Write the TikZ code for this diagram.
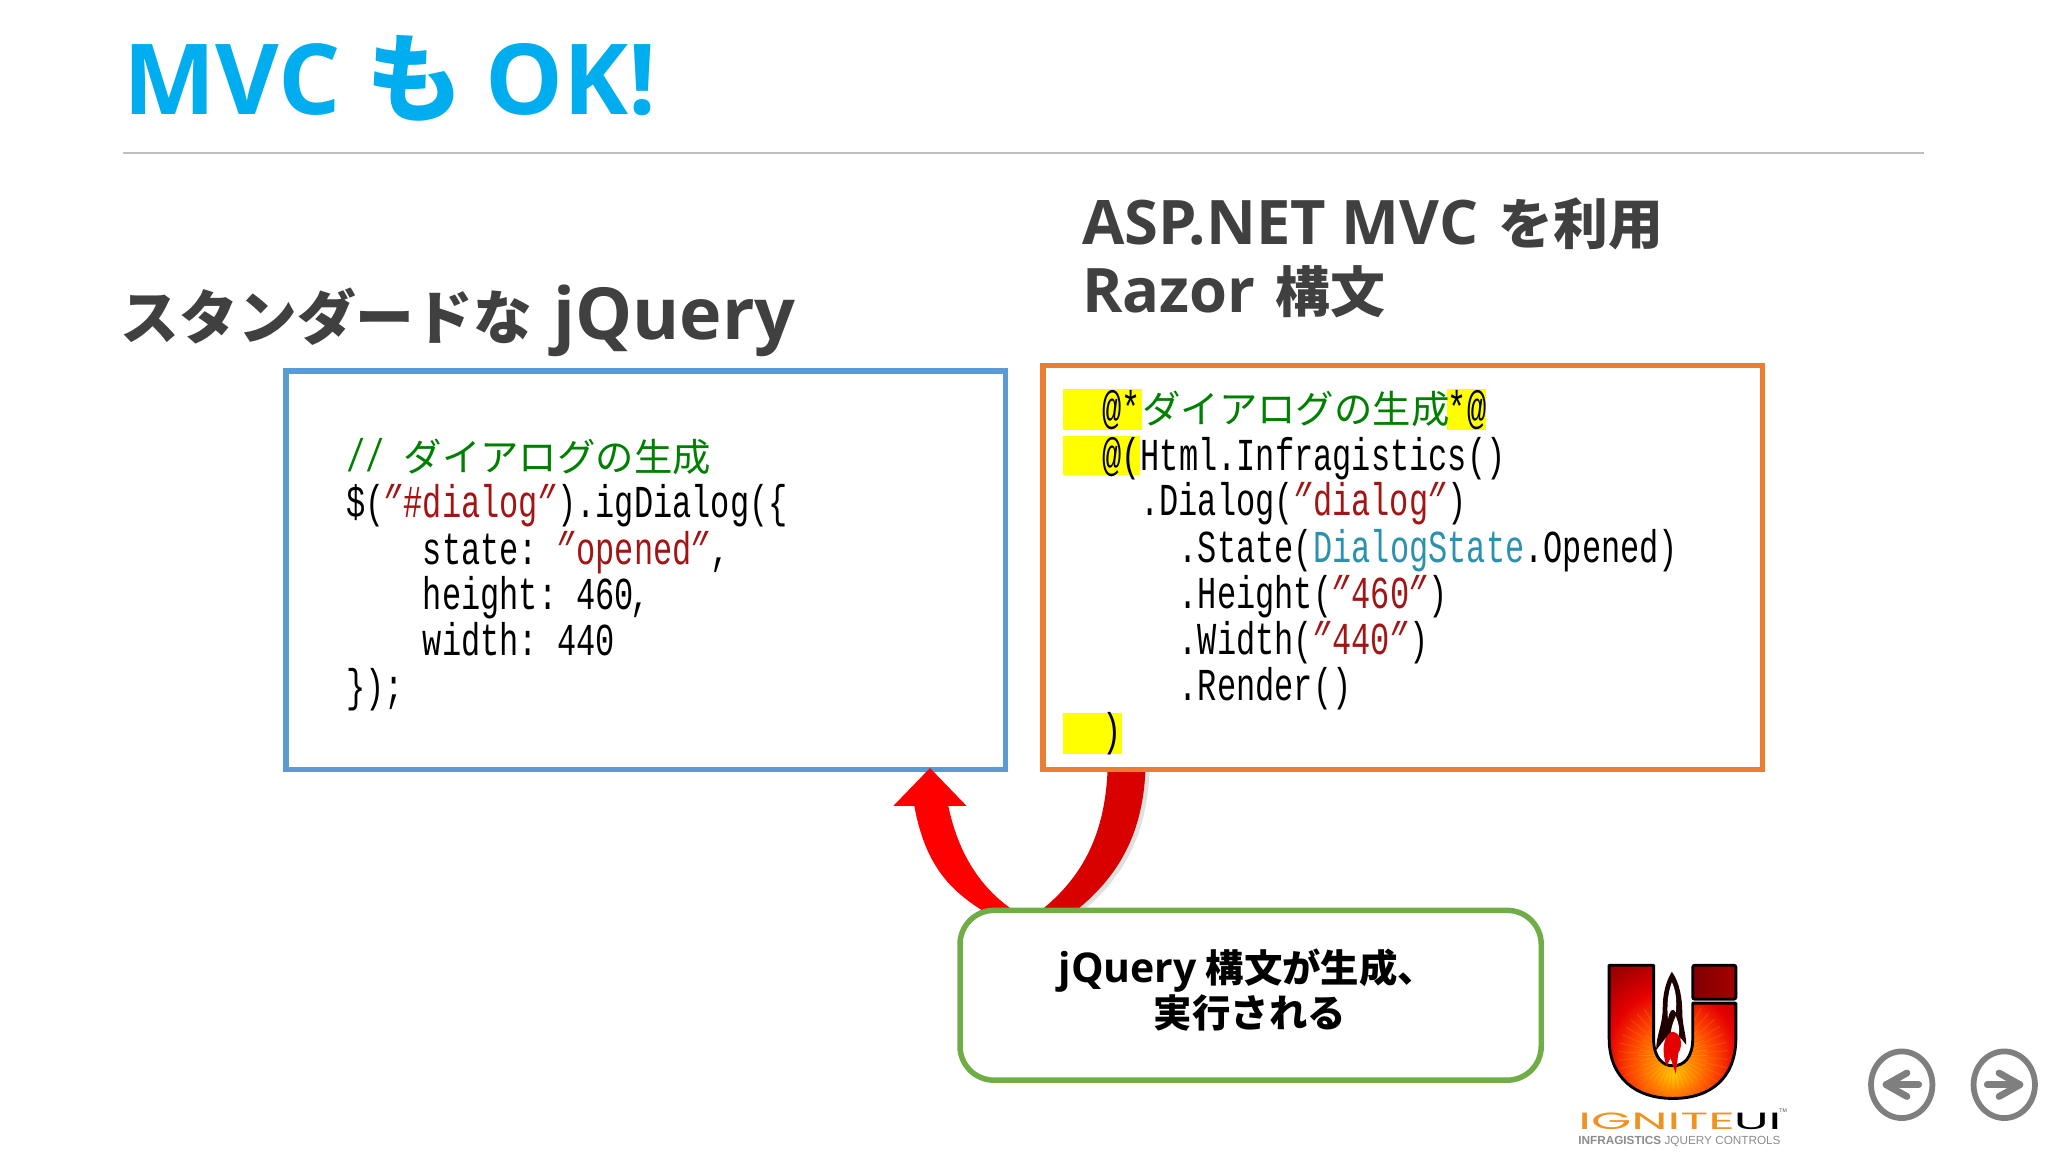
\documentclass[tikz,border=0pt]{standalone}
\usepackage{fontspec}
\usetikzlibrary{shapes.geometric,calc}
\setmainfont{Noto Sans CJK JP}
\newfontfamily\cjk{Noto Sans CJK JP}
\newfontfamily\lat{Open Sans}
\newfontfamily\codefont[FakeStretch=0.7]{Liberation Mono}
\newfontfamily\quotefont[FakeStretch=0.7,FakeSlant=0.45]{Liberation Mono}
\newfontfamily\logofont[FakeStretch=2.2]{Poppins}
\newfontfamily\smallfont{Liberation Sans}
\definecolor{titleblue}{HTML}{00AEEF}
\definecolor{headgray}{HTML}{404040}
\definecolor{rulegray}{HTML}{BFBFBF}
\definecolor{boxblue}{HTML}{5B9BD5}
\definecolor{boxorange}{HTML}{ED7D31}
\definecolor{boxgreen}{HTML}{70AD47}
\definecolor{cgreen}{HTML}{008000}
\definecolor{cred}{HTML}{A31515}
\definecolor{cteal}{HTML}{2B91AF}
\definecolor{hlyellow}{HTML}{FFFF00}
\definecolor{navgray}{HTML}{7F7F7F}
\definecolor{arrowred}{HTML}{FF0000}
\definecolor{arrowdark}{HTML}{D90000}
\definecolor{logoorange}{HTML}{EE9322}
\pgfdeclareradialshading{ufire}{\pgfpoint{0bp}{-16bp}}{%
 color(0bp)=(yellow!60!orange);
 color(7bp)=(orange!90!yellow);
 color(16bp)=(orange!60!red);
 color(26bp)=(red!90!black);
 color(36bp)=(red!65!black);
 color(48bp)=(red!45!black);
 color(70bp)=(red!35!black)}
\tikzset{
 codeline/.style={anchor=base west,inner sep=0pt,outer sep=0pt,font=\codefont\fontsize{17.5}{17.5}\selectfont},
 heading/.style={anchor=base west,inner sep=0pt,font=\cjk\bfseries\fontsize{#1}{#1}\selectfont,text=headgray},
 codebox/.style={draw=#1,line width=2pt,rectangle,inner sep=0pt},
 navcircle/.style={draw=navgray,line width=2.2pt,ellipse,inner sep=0pt,minimum width=23.5pt,minimum height=25.5pt},
 navarrow/.style={draw=navgray,line width=2.6pt,line cap=round,line join=round},
 notetext/.style={anchor=base,inner sep=0pt,font=\cjk\bfseries\fontsize{14.7}{14.7}\selectfont}
}
\newcommand{\jp}[1]{{\cjk\fontsize{14.7}{14.7}\selectfont #1}}
\newcommand{\qt}{{\kern-4.5pt\quotefont\char34\kern4.5pt}}
\newcommand{\str}[1]{\textcolor{cred}{#1}}
\newcommand{\lt}[2]{{\lat\bfseries\fontsize{#1}{#1}\selectfont #2}}
\begin{document}
\begin{tikzpicture}[x=0.5pt,y=-0.5pt]
\useasboundingbox (0,0) rectangle (1568,882);
\fill[white] (0,0) rectangle (1568,882);

% title
\node[anchor=base west,inner sep=0pt,text=titleblue,font=\cjk\bfseries\fontsize{37}{37}\selectfont] (title) at (94,88) {\lt{37.5}{MVC}\kern1.5pt{} も \lt{37.5}{OK!}};
\coordinate (ruleL) at (94,117); \coordinate (ruleR) at (1473,117);
\draw[rulegray,line width=0.8pt] (ruleL) -- (ruleR);

% headings
\node[heading=22.5] (headL) at (92,260) {スタンダードな\kern3pt{} \lt{27.5}{jQuery}};
\node[heading=21] (headR1) at (828,187) {\lt{23.5}{ASP.NET MVC}\kern3pt{} を利用};
\node[heading=21] (headR2) at (828,239) {\lt{23.5}{Razor}\kern3pt{} 構文};

% red curved arrow: shadow, then band
\coordinate (tip) at (712,588);
\fill[black,opacity=0.12] (880,591) .. controls (878,642) and (858,674) .. (827,699) -- (820,699) .. controls (852,672) and (872,640) .. (874,591) -- cycle;
\fill[arrowdark] (877,589) .. controls (875,640) and (855,672) .. (824,697)
  -- (797,697) .. controls (828,672) and (846,640) .. (848,589) -- cycle;

% code boxes
\node[codebox=boxblue,minimum width=275.5pt,minimum height=152.5pt] (jsbox) at (494.5,436.5) {};
\node[codebox=boxorange,minimum width=275.5pt,minimum height=154.5pt] (razorbox) at (1074,434.5) {};

\fill[arrowred] (tip) -- (740,617) -- (726,617) .. controls (733,650) and (748,678) .. (776,697)
  -- (752,697) .. controls (725,680) and (708,660) .. (700,617) -- (684,617) -- cycle;

% left code
\node[codeline,text=cgreen] (l1) at (265,361) {// \jp{ダイアログの生成}};
\node[codeline] (l2) at (265,396) {\$(\str{\qt\#dialog\qt}).igDialog(\{};
\node[codeline] (l3) at (323.8,432) {state:\kern-2.5pt{} \str{\qt{}opened\qt},};
\node[codeline] (l4) at (323.8,467) {height:\kern-2.5pt{} 460\kern-1.5pt,};
\node[codeline] (l5) at (323.8,502) {width:\kern-2.5pt{} 440};
\node[codeline] (l6) at (265,537) {\});};

% right highlights
\fill[hlyellow] (814,298) rectangle (874,329);
\fill[hlyellow] (1108,298) rectangle (1138,329);
\fill[hlyellow] (814,334) rectangle (873,364);
\fill[hlyellow] (814,546) rectangle (859,577);

% right code
\node[codeline] (r1a) at (844,324) {@*};
\node[codeline,text=cgreen] (r1b) at (874.5,324) {\jp{ダイアログの生成}};
\node[codeline] (r1c) at (1108.5,324) {*@};
\node[codeline] (r2) at (844,360) {@(Html.Infragistics()};
\node[codeline] (r3) at (873,395) {.Dialog(\str{\qt{}dialog\qt})};
\node[codeline] (r4) at (902.5,431) {.State(\textcolor{cteal}{DialogState}.Opened)};
\node[codeline] (r5) at (902.5,466) {.Height(\str{\qt{}460\qt})};
\node[codeline] (r6) at (902.5,501) {.Width(\str{\qt{}440\qt})};
\node[codeline] (r7) at (902.5,536) {.Render()};
\node[codeline] (r8) at (844,571) {)};

% green note
\node[draw=boxgreen,fill=white,line width=2.1pt,rectangle,rounded corners=13pt,minimum width=222.5pt,minimum height=65pt,inner sep=0pt] (note) at (957.5,762) {};
\node[notetext] (note1) at (955,752) {\lt{15.7}{jQuery} 構文が生成、};
\node[notetext] (note2) at (957,787) {実行される};

% logo
\def\upath{(1232,741) -- (1232,739) -- (1266,739) -- (1266,795)
  .. controls (1266,810) and (1273,816) .. (1281,816)
  .. controls (1289,816) and (1296,810) .. (1296,795)
  -- (1296,768) -- (1329,768) -- (1329,795)
  .. controls (1329,825) and (1310,841) .. (1281,841)
  .. controls (1252,841) and (1232,825) .. (1232,795) -- cycle}
\shade[shading=ufire] \upath;
\begin{scope}
\clip \upath;
\foreach \a in {0,9,...,351}{
  \draw[yellow!60!orange,opacity=0.3,line width=0.3pt] (1281,808) -- ++(\a:26);
  \draw[orange,opacity=0.3,line width=0.4pt] (1281,808) ++(\a+4:6) -- ++(\a+4:36);
}
\end{scope}
\draw[black,line width=1.1pt,line join=round] \upath;
\shade[left color=red!50!black,right color=red!65!black,draw=black,line width=1.1pt,rounded corners=0.8pt] (1296,739) rectangle (1329,765);
% rocket
\fill[black!85!red!80!black] (1280,744) .. controls (1286,752) and (1288,765) .. (1288,775)
  .. controls (1288,785) and (1291,792) .. (1291,800) -- (1287,795) -- (1275,795) -- (1268,804)
  .. controls (1268,792) and (1273,785) .. (1273,772) .. controls (1273,762) and (1275,752) .. (1280,744) -- cycle;
\fill[white] (1280,752) .. controls (1283,758) and (1284,766) .. (1283,775)
  .. controls (1280,770) and (1278,775) .. (1277,780) .. controls (1276,770) and (1277,760) .. (1280,752) -- cycle;
\fill[white] (1283,778) .. controls (1286,785) and (1286,790) .. (1285,794) -- (1279,794) .. controls (1279,788) and (1281,782) .. (1283,778) -- cycle;
\fill[red!90!black] (1280,790) .. controls (1287,790) and (1289,800) .. (1285,806)
  -- (1283,822) -- (1279,810) -- (1276,816) .. controls (1272,806) and (1273,793) .. (1280,790) -- cycle;
\node[anchor=base west,inner sep=0pt,text=logoorange,font=\logofont\fontsize{9}{9}\selectfont] (logoA) at (1208,865) {IGNITE};
\node[anchor=base west,inner sep=0pt,text=black,font=\logofont\fontsize{9}{9}\selectfont] (logoB) at (1327,865) {UI};
\node[anchor=base west,inner sep=0pt,text=black!70,font=\smallfont\fontsize{2}{2}\selectfont] (logoC) at (1362,852) {TM};
\node[anchor=base west,inner sep=0pt,text=black!45,font=\smallfont\fontsize{4.5}{4.5}\selectfont] (logoD) at (1208,876) {\textbf{INFRAGISTICS} JQUERY CONTROLS};

% navigation
\node[navcircle] (prev) at (1456,830.5) {};
\node[navcircle] (next) at (1534.5,830.5) {};
\draw[navarrow] ($(prev.center)+(13,0)$) -- ($(prev.center)+(-12,0)$);
\draw[navarrow] ($(prev.center)+(4,-9)$) -- ($(prev.center)+(-12,0)$) -- ($(prev.center)+(4,9)$);
\draw[navarrow] ($(next.center)+(-13,0)$) -- ($(next.center)+(12,0)$);
\draw[navarrow] ($(next.center)+(-4,-9)$) -- ($(next.center)+(12,0)$) -- ($(next.center)+(-4,9)$);
\end{tikzpicture}
\end{document}
